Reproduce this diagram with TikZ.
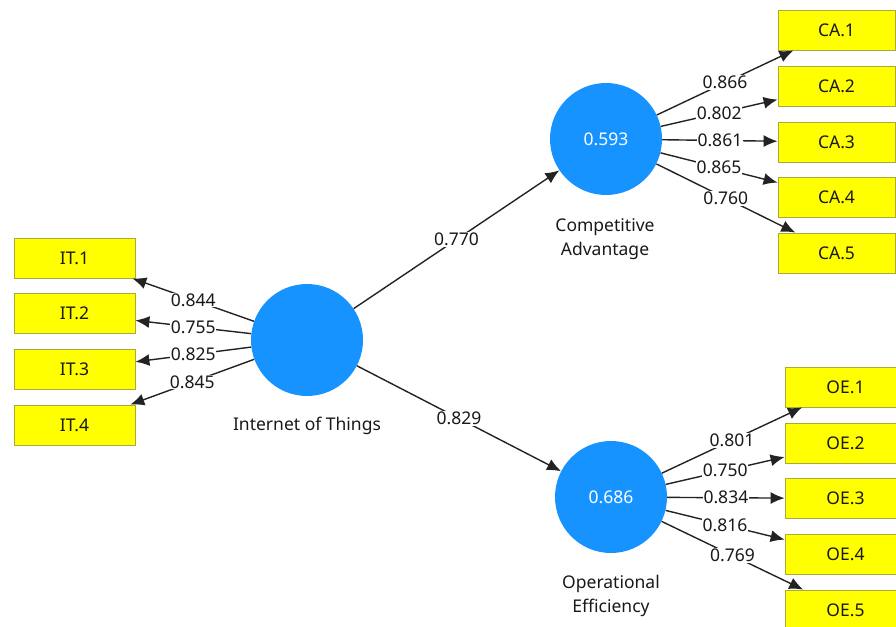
\documentclass[tikz,border=0pt]{standalone}
\usepackage{fontspec}
\setmainfont{Noto Sans}
\usetikzlibrary{arrows.meta}
\definecolor{lvblue}{RGB}{23,147,255}
\definecolor{boxyellow}{RGB}{255,255,0}
\definecolor{boxedge}{RGB}{170,170,60}
\definecolor{linec}{RGB}{35,35,35}
\definecolor{txt}{RGB}{25,25,25}
\tikzset{
  lv/.style={circle, fill=lvblue, draw=none, minimum size=112pt, inner sep=0pt, text=white, font=\fontsize{17.5}{17.5}\selectfont},
  mv/.style={rectangle, fill=boxyellow, draw=boxedge, line width=0.8pt, minimum width=121pt, minimum height=40pt, inner sep=0pt, text=txt, font=\fontsize{17.5}{17.5}\selectfont},
  mvca/.style={mv, minimum width=117pt},
  lvname/.style={text=txt, align=center, font=\fontsize{17.5}{24}\selectfont},
  lbl/.style={fill=white, inner sep=0.8pt, text=txt, font=\fontsize{17.5}{17.5}\selectfont},
  conn/.style={draw=linec, line width=1.4pt, -{Latex[length=14pt,width=12pt]}}
}
\begin{document}
\begin{tikzpicture}[x=1pt,y=-1pt]
\useasboundingbox (0,0) rectangle (896,626);
% latent variables
\node[lv] (iot) at (307,340) {};
\node[lv] (ca) at (606,139) {0.593};
\node[lv] (oe) at (611,497) {0.686};
\node[lvname] (iotname) at (307,426) {Internet of Things};
\node[lvname] (caname) at (605,239) {Competitive\\Advantage};
\node[lvname] (oename) at (611,596) {Operational\\Efficiency};
% IT indicators
\node[mv] (it1) at (74.5,258) {IT.1};
\node[mv] (it2) at (74.5,313.5) {IT.2};
\node[mv] (it3) at (74.5,369.5) {IT.3};
\node[mv] (it4) at (74.5,425) {IT.4};
% CA indicators
\node[mvca] (ca1) at (836.5,30) {CA.1};
\node[mvca] (ca2) at (836.5,86) {CA.2};
\node[mvca] (ca3) at (836.5,142) {CA.3};
\node[mvca] (ca4) at (836.5,197.5) {CA.4};
\node[mvca] (ca5) at (836.5,253) {CA.5};
% OE indicators
\node[mv] (oe1) at (845.5,387) {OE.1};
\node[mv] (oe2) at (845.5,443) {OE.2};
\node[mv] (oe3) at (845.5,498.5) {OE.3};
\node[mv] (oe4) at (845.5,554.5) {OE.4};
\node[mv] (oe5) at (845.5,610) {OE.5};
% structural paths
\draw[conn] (iot) -- (ca) node[midway, lbl] {0.770};
\draw[conn] (iot) -- (oe) node[midway, lbl] {0.829};
% IT loadings
\draw[conn] (iot) -- (it1) node[midway, lbl] {0.844};
\draw[conn] (iot) -- (it2) node[midway, lbl] {0.755};
\draw[conn] (iot) -- (it3) node[midway, lbl] {0.825};
\draw[conn] (iot) -- (it4) node[midway, lbl] {0.845};
% CA loadings
\draw[conn] (ca) -- (ca1) node[midway, lbl] {0.866};
\draw[conn] (ca) -- (ca2) node[midway, lbl] {0.802};
\draw[conn] (ca) -- (ca3) node[midway, lbl] {0.861};
\draw[conn] (ca) -- (ca4) node[midway, lbl] {0.865};
\draw[conn] (ca) -- (ca5) node[midway, lbl] {0.760};
% OE loadings
\draw[conn] (oe) -- (oe1) node[midway, lbl] {0.801};
\draw[conn] (oe) -- (oe2) node[midway, lbl] {0.750};
\draw[conn] (oe) -- (oe3) node[midway, lbl] {0.834};
\draw[conn] (oe) -- (oe4) node[midway, lbl] {0.816};
\draw[conn] (oe) -- (oe5) node[midway, lbl] {0.769};
\end{tikzpicture}
\end{document}
